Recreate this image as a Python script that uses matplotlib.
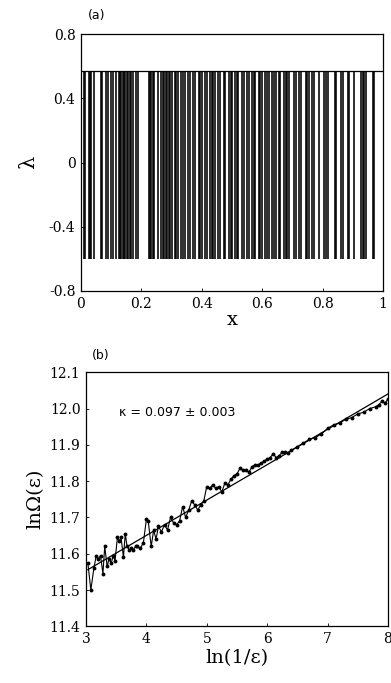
import matplotlib
matplotlib.use("Agg")
import matplotlib.pyplot as plt
import numpy as np

plt.rcParams['axes.unicode_minus'] = False

# ---------------- Panel (a) data ----------------
stripe_x = [0.001, 0.010, 0.014, 0.026, 0.030, 0.034, 0.044, 0.065, 0.070, 0.082, 0.088,
            0.099, 0.105, 0.116, 0.126, 0.130, 0.134, 0.138, 0.142, 0.147, 0.152, 0.157,
            0.162, 0.167, 0.172, 0.182, 0.188,
            0.224, 0.228, 0.233, 0.238, 0.243, 0.255, 0.265, 0.270, 0.275, 0.280, 0.285,
            0.290, 0.295, 0.300, 0.310, 0.316, 0.322, 0.330, 0.337, 0.344, 0.355, 0.360,
            0.372, 0.378, 0.389, 0.394, 0.400, 0.410, 0.416, 0.427, 0.432, 0.437, 0.443,
            0.455, 0.461, 0.472, 0.478, 0.489, 0.495, 0.500, 0.510, 0.516, 0.521, 0.533,
            0.538, 0.550, 0.555, 0.566, 0.571, 0.577, 0.589, 0.594, 0.600, 0.610, 0.616,
            0.621, 0.633, 0.638, 0.644, 0.655, 0.660, 0.672, 0.677, 0.682, 0.688, 0.705,
            0.710, 0.722, 0.727, 0.744, 0.749, 0.755, 0.766, 0.771, 0.788, 0.805, 0.810,
            0.816, 0.839, 0.844, 0.861, 0.866, 0.883, 0.888, 0.905, 0.927, 0.932, 0.937,
            0.943, 0.966, 0.971]
stripe_low = -0.60
stripe_high = 0.57

a_xticks = [0, 0.2, 0.4, 0.6, 0.8, 1]
a_xticklabels = ['0', '0.2', '0.4', '0.6', '0.8', '1']
a_yticks = [0.8, 0.4, 0, -0.4, -0.8]
a_yticklabels = ['0.8', '0.4', '0', '-0.4', '-0.8']

# ---------------- Panel (b) data ----------------
b_x = [3.03, 3.08, 3.13, 3.17, 3.20, 3.24, 3.28, 3.31, 3.35, 3.38, 3.42, 3.45, 3.48,
       3.52, 3.55, 3.58, 3.62, 3.65, 3.68, 3.72, 3.75, 3.78, 3.82, 3.85, 3.90, 3.95,
       4.00, 4.03, 4.08, 4.12, 4.16, 4.20, 4.25, 4.30, 4.35, 4.40, 4.45, 4.50, 4.55,
       4.60, 4.65, 4.70, 4.75, 4.80, 4.85, 4.90, 4.95, 5.00, 5.05, 5.10, 5.15, 5.20,
       5.25, 5.30, 5.35, 5.40, 5.45, 5.50, 5.55, 5.60, 5.65, 5.70, 5.75, 5.80, 5.85,
       5.90, 5.95, 6.00, 6.05, 6.10, 6.15, 6.20, 6.25, 6.30, 6.35, 6.40, 6.50, 6.60,
       6.70, 6.80, 6.90, 7.00, 7.10, 7.20, 7.30, 7.40, 7.50, 7.60, 7.70, 7.80, 7.85,
       7.90, 7.95, 8.00]
b_y = [11.575, 11.500, 11.560, 11.595, 11.585, 11.595, 11.545, 11.620, 11.565, 11.585,
       11.575, 11.595, 11.580, 11.645, 11.635, 11.645, 11.590, 11.655, 11.620, 11.610,
       11.615, 11.610, 11.620, 11.620, 11.615, 11.630, 11.695, 11.690, 11.620, 11.665,
       11.640, 11.675, 11.660, 11.680, 11.665, 11.700, 11.685, 11.680, 11.690, 11.730,
       11.700, 11.720, 11.745, 11.735, 11.720, 11.735, 11.745, 11.785, 11.780, 11.790,
       11.780, 11.785, 11.770, 11.795, 11.790, 11.805, 11.815, 11.820, 11.835, 11.830,
       11.830, 11.825, 11.840, 11.845, 11.845, 11.850, 11.855, 11.860, 11.865, 11.875,
       11.865, 11.870, 11.880, 11.880, 11.878, 11.885, 11.895, 11.905, 11.915, 11.920,
       11.930, 11.945, 11.955, 11.960, 11.970, 11.975, 11.985, 11.990, 12.000, 12.005,
       12.010, 12.020, 12.015, 12.025]
fit_x = [3.03, 8.0]
fit_y = [11.556, 12.040]
kappa_text = 'κ = 0.097 ± 0.003'

b_xticks = [3, 4, 5, 6, 7, 8]
b_yticks = [11.4, 11.5, 11.6, 11.7, 11.8, 11.9, 12.0, 12.1]

# ---------------- Figure ----------------
fig = plt.figure(figsize=(3.91, 6.83), dpi=100)
serif = 'DejaVu Serif'
tick_fs = 10

ax1 = fig.add_axes([0.207, 0.574, 0.773, 0.376])
ax1.vlines(stripe_x, stripe_low, stripe_high, colors='black', linewidth=1.15)
ax1.axhline(stripe_high, color='black', linewidth=0.9)
ax1.set_xlim(0, 1)
ax1.set_ylim(-0.8, 0.8)
ax1.set_xticks(a_xticks)
ax1.set_xticklabels(a_xticklabels, fontfamily=serif, fontsize=tick_fs)
ax1.set_yticks(a_yticks)
ax1.set_yticklabels(a_yticklabels, fontfamily=serif, fontsize=tick_fs)
ax1.tick_params(direction='in', length=2, width=0.6, pad=4)
ax1.set_xlabel('x', fontfamily=serif, fontsize=14, labelpad=0)
ax1.set_ylabel('λ', fontfamily=serif, fontsize=15, rotation=90, labelpad=8)
for s in ax1.spines.values():
    s.set_linewidth(0.9)
fig.text(0.225, 0.978, '(a)', fontsize=9, ha='left', va='center')

ax2 = fig.add_axes([0.220, 0.083, 0.772, 0.372])
ax2.plot(b_x, b_y, color='black', linewidth=0.8, marker='o', markersize=1.8)
ax2.plot(fit_x, fit_y, color='black', linewidth=0.9)
ax2.set_xlim(3, 8)
ax2.set_ylim(11.4, 12.1)
ax2.set_xticks(b_xticks)
ax2.set_xticklabels([str(v) for v in b_xticks], fontfamily=serif, fontsize=tick_fs)
ax2.set_yticks(b_yticks)
ax2.set_yticklabels(['%.1f' % v for v in b_yticks], fontfamily=serif, fontsize=tick_fs)
ax2.tick_params(direction='in', length=2, width=0.6, pad=4)
ax2.set_xlabel('ln(1/ε)', fontfamily=serif, fontsize=14, labelpad=2)
ax2.set_ylabel('lnΩ(ε)', fontfamily=serif, fontsize=14, labelpad=4)
ax2.text(3.55, 11.99, kappa_text, fontsize=9, ha='left', va='center')
for s in ax2.spines.values():
    s.set_linewidth(0.9)
fig.text(0.235, 0.48, '(b)', fontsize=9, ha='left', va='center')

fig.savefig('out.png', dpi=100)
